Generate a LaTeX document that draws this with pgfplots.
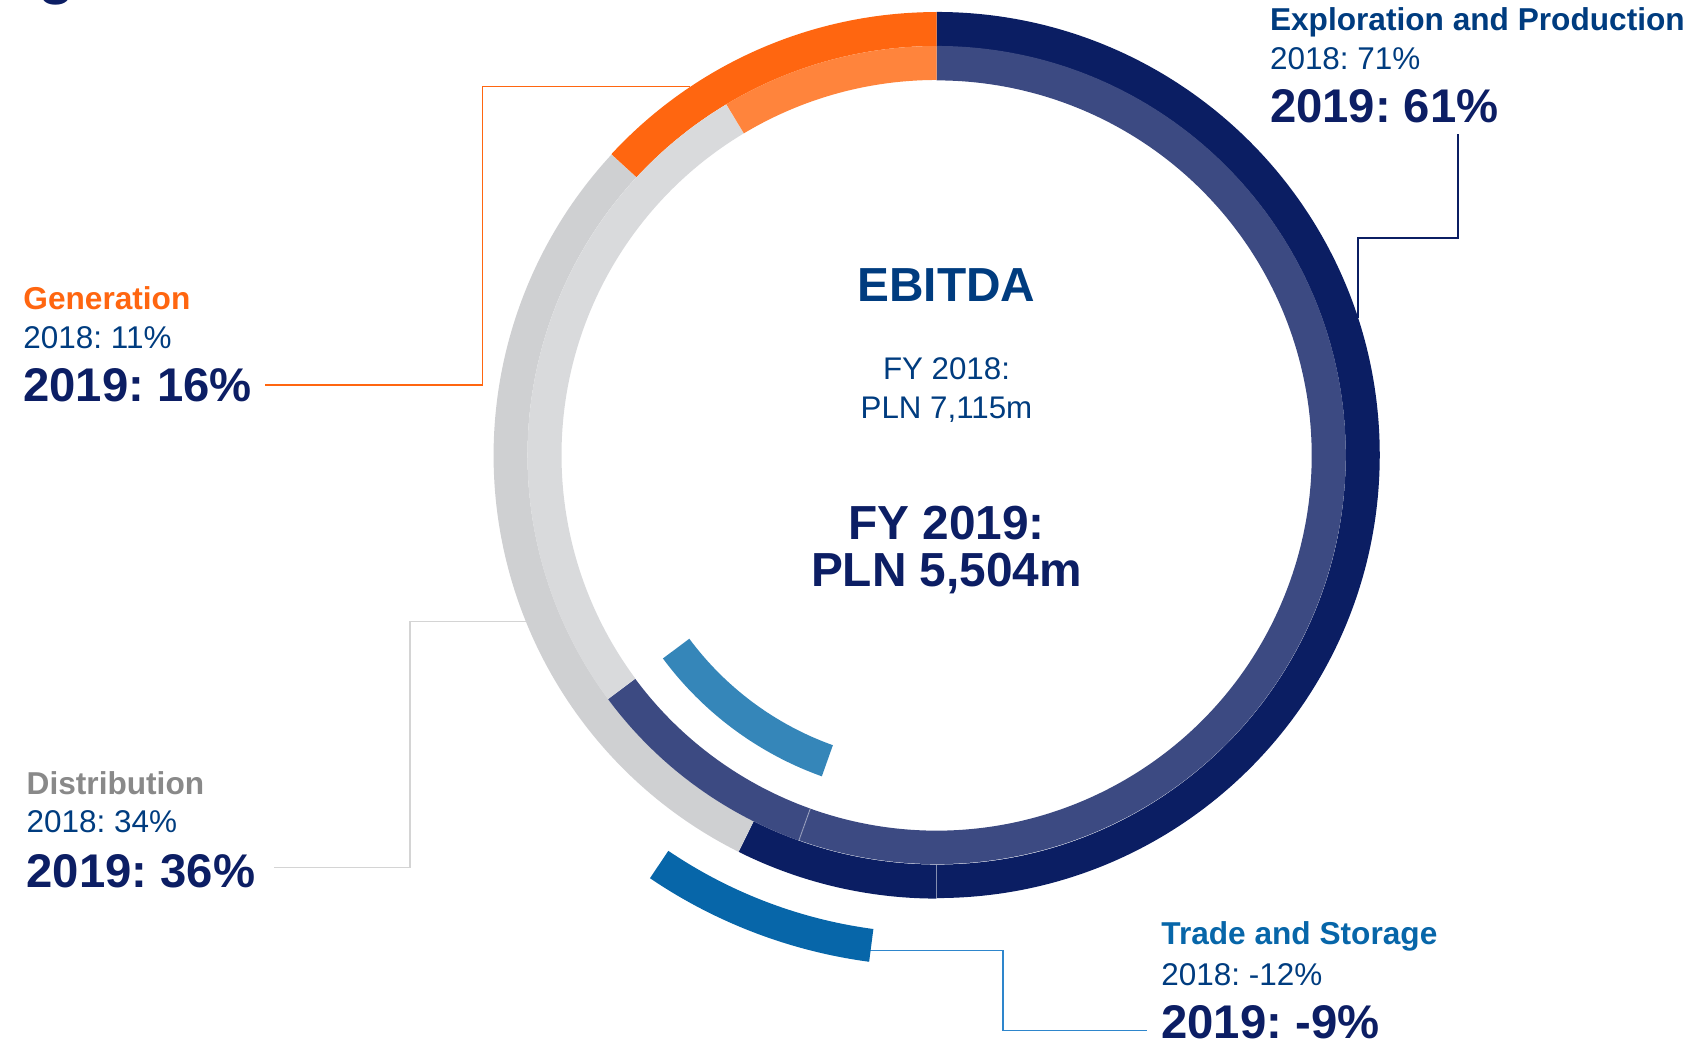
\documentclass[border=0pt]{standalone}
\usepackage{fontspec}
\setmainfont{Liberation Sans}
\usepackage{pgfplots}
\pgfplotsset{compat=1.18}

\definecolor{navyO}{HTML}{0B1E63}
\definecolor{navyI}{HTML}{3C4A82}
\definecolor{orangeO}{HTML}{FF6610}
\definecolor{orangeI}{HTML}{FF843C}
\definecolor{grayO}{HTML}{CFD0D2}
\definecolor{grayI}{HTML}{D9DADC}
\definecolor{tradeO}{HTML}{0766A9}
\definecolor{tradeI}{HTML}{3586B9}
\definecolor{txtblue}{HTML}{003C7F}
\definecolor{txtnavy}{HTML}{0C1E64}
\definecolor{distgray}{HTML}{898989}
\definecolor{lineblue}{HTML}{2E86CC}
\definecolor{linegray}{HTML}{D4D4D4}

% fonts (sizes from the picture, 1 unit = 1 px = 0.01cm)
\newcommand{\hd}{\fontsize{9.0}{10}\selectfont\bfseries}
\newcommand{\sm}{\fontsize{8.95}{10}\selectfont}
\newcommand{\bg}{\fontsize{13.45}{15}\selectfont\bfseries}

% ring centre
\def\cx{936.7}
\def\cy{596.7}

% annular sector: r_in, r_out, from, to (degrees clockwise from 12 o'clock), colour
\newcommand{\sector}[5]{%
  \fill[#5] (axis cs:{\cx+#2*sin(#3)},{\cy+#2*cos(#3)})
    arc[start angle={90-(#3)}, end angle={90-(#4)}, radius={#2*0.01cm}]
    -- (axis cs:{\cx+#1*sin(#4)},{\cy+#1*cos(#4)})
    arc[start angle={90-(#4)}, end angle={90-(#3)}, radius={#1*0.01cm}] -- cycle;}
\newcommand{\seam}[3]{%
  \draw[white, opacity=0.35, line width=0.3pt]
    (axis cs:{\cx+#1*sin(#3)},{\cy+#1*cos(#3)}) -- (axis cs:{\cx+#2*sin(#3)},{\cy+#2*cos(#3)});}

% EBITDA share by segment (%)
% 2018
\def\epA{71}\def\tsA{-12}\def\diA{34}\def\geA{11}
% 2019
\def\epB{61}\def\tsB{-9}\def\diB{36}\def\geB{16}

\pgfmathsetmacro{\totA}{\epA+abs(\tsA)+\diA+\geA}
\pgfmathsetmacro{\angEPa}{\epA/\totA*360}
\pgfmathsetmacro{\angTSa}{(\epA+abs(\tsA))/\totA*360}
\pgfmathsetmacro{\angDIa}{(\epA+abs(\tsA)+\diA)/\totA*360}
\pgfmathsetmacro{\totB}{\epB+abs(\tsB)+\diB+\geB}
\pgfmathsetmacro{\angEPb}{\epB/\totB*360}
\pgfmathsetmacro{\angTSb}{(\epB+abs(\tsB))/\totB*360}
\pgfmathsetmacro{\angDIb}{(\epB+abs(\tsB)+\diB)/\totB*360}
\pgfmathsetmacro{\trOa}{\angEPb+7.6}
\pgfmathsetmacro{\trOb}{\angTSb+7.6}

\begin{document}
\frenchspacing
\begin{tikzpicture}
\useasboundingbox (0,0) rectangle (17.04cm,10.52cm);
\begin{axis}[
  hide axis, scale only axis,
  width=17.04cm, height=10.52cm,
  xmin=0, xmax=1704, ymin=0, ymax=1052,
  clip=false, anchor=south west, at={(0,0)}
]
% leader lines
\draw[navyO, line width=0.45pt] (axis cs:1357.7,{1052-318}) -- (axis cs:1357.7,{1052-238.3})
  -- (axis cs:1457.7,{1052-238.3}) -- (axis cs:1457.7,{1052-134});
\draw[orangeO, line width=0.45pt] (axis cs:265,{1052-385}) -- (axis cs:482.3,{1052-385})
  -- (axis cs:482.3,{1052-86.7}) -- (axis cs:690.4,{1052-86.7});
\draw[linegray, line width=0.45pt] (axis cs:274.3,{1052-867.7}) -- (axis cs:410,{1052-867.7})
  -- (axis cs:410,{1052-621.7}) -- (axis cs:525.8,{1052-621.7});
\draw[lineblue, line width=0.45pt] (axis cs:862,{1052-950.7}) -- (axis cs:1002.7,{1052-950.7})
  -- (axis cs:1002.7,{1052-1030.7}) -- (axis cs:1147.3,{1052-1030.7});

% outer ring: 2019
\sector{409.3}{443.3}{0}{\angEPb}{navyO}
\sector{409.3}{443.3}{\angEPb}{\angTSb}{navyO}
\sector{409.3}{443.3}{\angTSb}{\angDIb}{grayO}
\sector{409.3}{443.3}{\angDIb}{360}{orangeO}
\seam{409.3}{443.3}{\angEPb}
% inner ring: 2018
\sector{375.3}{409.3}{0}{\angEPa}{navyI}
\sector{375.3}{409.3}{\angEPa}{\angTSa}{navyI}
\sector{375.3}{409.3}{\angTSa}{\angDIa}{grayI}
\sector{375.3}{409.3}{\angDIa}{360}{orangeI}
\seam{375.3}{409.3}{\angEPa}
% negative Trade and Storage arcs
\sector{478}{511}{\trOa}{\trOb}{tradeO}
\sector{308}{341}{\angEPa}{\angTSa}{tradeI}

% stray glyph cut by the top edge
\node[anchor=base west, inner sep=0pt, text=txtnavy, font=\fontsize{17}{18}\selectfont\bfseries]
  at (axis cs:38,{1052+7.6}) {g};

% labels
\node[anchor=base west, inner sep=0pt, text=txtblue, font=\hd] at (axis cs:1269.3,{1052-30.7}) {Exploration and Production};
\node[anchor=base west, inner sep=0pt, text=txtblue, font=\sm] at (axis cs:1269.3,{1052-70}) {2018: 71\%};
\node[anchor=base west, inner sep=0pt, text=txtnavy, font=\bg] at (axis cs:1269.3,{1052-122.7}) {2019: 61\%};

\node[anchor=base west, inner sep=0pt, text=orangeO, font=\hd] at (axis cs:22.7,{1052-310}) {Generation};
\node[anchor=base west, inner sep=0pt, text=txtblue, font=\sm] at (axis cs:22.7,{1052-348.3}) {2018: 11\%};
\node[anchor=base west, inner sep=0pt, text=txtnavy, font=\bg] at (axis cs:22.7,{1052-401.7}) {2019: 16\%};

\node[anchor=base west, inner sep=0pt, text=distgray, font=\hd] at (axis cs:26,{1052-794.3}) {Distribution};
\node[anchor=base west, inner sep=0pt, text=txtblue, font=\sm] at (axis cs:26,{1052-832.7}) {2018: 34\%};
\node[anchor=base west, inner sep=0pt, text=txtnavy, font=\bg] at (axis cs:26,{1052-887.3}) {2019: 36\%};

\node[anchor=base west, inner sep=0pt, text=tradeO, font=\hd] at (axis cs:1160.7,{1052-945}) {Trade and Storage};
\node[anchor=base west, inner sep=0pt, text=txtblue, font=\sm] at (axis cs:1160.7,{1052-986}) {2018: -12\%};
\node[anchor=base west, inner sep=0pt, text=txtnavy, font=\bg] at (axis cs:1160.7,{1052-1038.3}) {2019: -9\%};

% centre
\node[anchor=base, inner sep=0pt, text=txtblue, font=\fontsize{13.6}{15}\selectfont\bfseries] at (axis cs:946.5,{1052-301.7}) {EBITDA};
\node[anchor=base, inner sep=0pt, text=txtblue, font=\fontsize{8.9}{10}\selectfont] at (axis cs:946.5,{1052-380}) {FY 2018:};
\node[anchor=base, inner sep=0pt, text=txtblue, font=\fontsize{8.9}{10}\selectfont] at (axis cs:946.5,{1052-418.3}) {PLN 7,115m};
\node[anchor=base, inner sep=0pt, text=txtnavy, font=\fontsize{13.6}{15}\selectfont\bfseries] at (axis cs:946.5,{1052-540}) {FY 2019:};
\node[anchor=base, inner sep=0pt, text=txtnavy, font=\fontsize{13.6}{15}\selectfont\bfseries] at (axis cs:946.5,{1052-586.7}) {PLN 5,504m};
\end{axis}
\end{tikzpicture}
\end{document}
